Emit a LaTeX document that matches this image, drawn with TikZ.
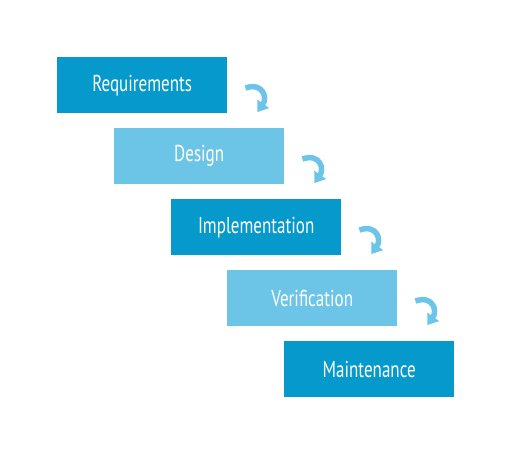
\documentclass[tikz,border=0pt]{standalone}
\usepackage{fontspec}
\setmainfont{PT Sans}[FakeStretch=0.74]
\usetikzlibrary{arrows.meta}
\definecolor{dark}{HTML}{0599CC}
\definecolor{light}{HTML}{6CC5E7}
\definecolor{arr}{HTML}{6CC5E8}
\tikzset{
  stepbox/.style={minimum width=170pt, minimum height=56pt, inner sep=0pt, text=white, font=\fontsize{23}{25}\selectfont, anchor=north west},
  darkbox/.style={stepbox, fill=dark},
  lightbox/.style={stepbox, fill=light},
  curvearrow/.style={arr, line width=5.5pt, -{Triangle[length=10pt,width=14pt]}}
}
\begin{document}
\begin{tikzpicture}[x=1pt,y=-1pt]
\useasboundingbox (0,0) rectangle (511,455);
\node[darkbox] (r) at (57,57) {Requirements};
\node[lightbox] (d) at (114,128) {Design};
\node[darkbox] (i) at (171,199) {Implementation};
\node[lightbox] (v) at (227,270) {Verification};
\node[darkbox] (m) at (284,341) {Maintenance};
\foreach \b in {r,d,i,v}{
  \coordinate (s\b) at ([shift={(18,31)}]\b.north east);
  \draw[curvearrow] (s\b) .. controls +(18,-6) and +(10,-14) .. ++(12,24);
}
\end{tikzpicture}
\end{document}
